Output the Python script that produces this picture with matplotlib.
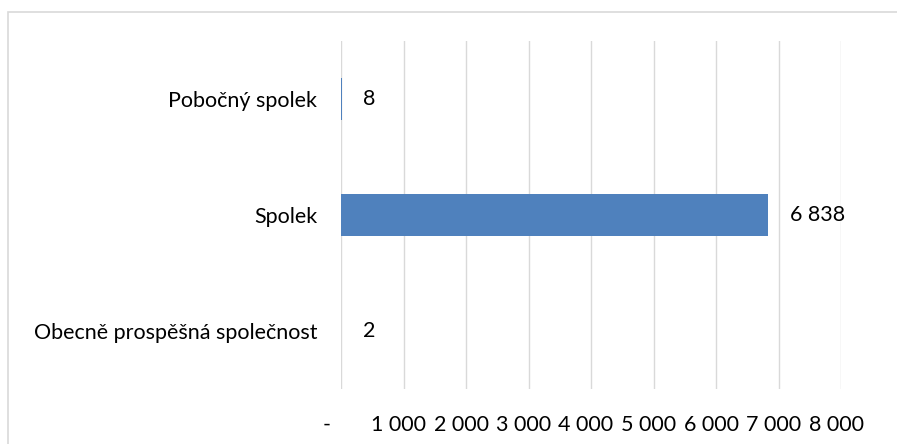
import matplotlib.pyplot as plt
import matplotlib.patches as patches
import matplotlib.transforms as mtransforms

# Data
categories = ['Pobočný spolek', 'Spolek', 'Obecně prospěšná společnost']
values = [8, 6838, 2]
tick_values = [0, 1000, 2000, 3000, 4000, 5000, 6000, 7000, 8000]
tick_labels = ['-', '1 000', '2 000', '3 000', '4 000', '5 000', '6 000', '7 000', '8 000']

plt.rcParams['font.family'] = ['Lato', 'DejaVu Sans']
FS = 15.5

W, H = 897, 444
fig = plt.figure(figsize=(W / 100, H / 100), dpi=100)
ax = fig.add_axes([341 / W, 1 - 389 / H, 500 / W, 348 / H])

# outer chart frame (cut by the image edges on the right and bottom)
frame = patches.Rectangle((8 / W, -0.5), 2.0, 1.5 - 12 / H, transform=fig.transFigure,
                          fill=False, edgecolor='#D9D9D9', linewidth=1.2)
fig.add_artist(frame)

y = range(len(categories))
bars = ax.barh(y, values, height=0.355, color='#4F81BD', linewidth=0, zorder=3)

ax.set_xlim(0, 8000)
ax.set_ylim(len(categories) - 0.5, -0.5)
ax.set_yticks(list(y))
ax.set_yticklabels(categories, fontsize=FS)
ax.set_xticks(tick_values)
ax.set_xticklabels(tick_labels, fontsize=FS)
ax.tick_params(axis='y', length=0, pad=17)
ax.tick_params(axis='x', length=0, pad=18.5)

# shift x tick labels slightly left like the Excel accounting format
for lab, v in zip(ax.get_xticklabels(), tick_values):
    dx = -14 if v == 0 else -5
    lab.set_transform(lab.get_transform() + mtransforms.ScaledTranslation(dx / 100, 0, fig.dpi_scale_trans))

ax.grid(axis='x', color='#D9D9D9', linewidth=1.0, zorder=0)
ax.grid(axis='y', visible=False)
for s in ax.spines.values():
    s.set_visible(False)

ax.bar_label(bars, labels=[f'{v:,}'.replace(',', ' ') for v in values],
             padding=15.5, fontsize=FS)

fig.savefig('out.png', dpi=100)
